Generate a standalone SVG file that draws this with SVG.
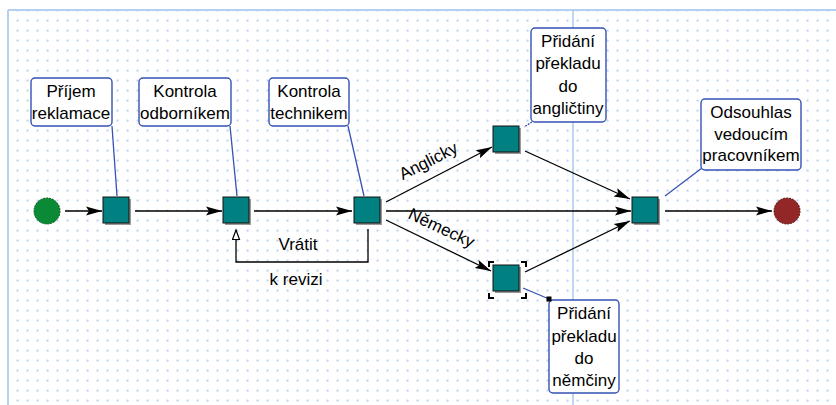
<svg xmlns="http://www.w3.org/2000/svg" width="836" height="405" viewBox="0 0 836 405">
<defs>
<pattern id="grid" x="12.5" y="15.5" width="10" height="10" patternUnits="userSpaceOnUse">
<rect x="4.2" y="4.2" width="1.8" height="1.8" fill="#a9c8ee"/>
</pattern>
<marker id="arr" markerUnits="userSpaceOnUse" markerWidth="17" markerHeight="11" refX="16" refY="5" orient="auto">
<path d="M0,0.5 L16,5 L0,9.5 L3,5 z" fill="#000"/>
</marker>
<marker id="hollow" markerUnits="userSpaceOnUse" markerWidth="12" markerHeight="10" refX="10" refY="4" orient="auto">
<path d="M0.5,0.5 L10,4 L0.5,7.5 z" fill="#fff" stroke="#000" stroke-width="1.2"/>
</marker>
</defs>
<style>
.txt{font-family:"Liberation Sans",Arial,sans-serif;font-size:17px;fill:#000;text-anchor:middle}
.note{fill:#fff;stroke:#3452b4;stroke-width:1.4}
.nl{stroke:#3452b4;stroke-width:1.3;fill:none}
.conn{stroke:#000;stroke-width:1.3;fill:none}
.act{fill:#008080;stroke:#111;stroke-width:1}
.sh{fill:#9a9a9a}
</style>
<rect x="0" y="0" width="836" height="405" fill="#fff"/>
<rect x="9" y="11" width="827" height="394" fill="url(#grid)"/>
<line x1="8" y1="10" x2="836" y2="10" stroke="#b3d1f2" stroke-width="2"/>
<line x1="8" y1="10" x2="8" y2="405" stroke="#b3d1f2" stroke-width="2"/>
<line x1="573" y1="10" x2="573" y2="405" stroke="#aac9ef" stroke-width="1.5"/>

<g id="connectors">
<line class="conn" x1="65" y1="211" x2="102" y2="211" marker-end="url(#arr)"/>
<line class="conn" x1="135" y1="211" x2="222" y2="211" marker-end="url(#arr)"/>
<line class="conn" x1="254" y1="211" x2="352" y2="211" marker-end="url(#arr)"/>
<line class="conn" x1="386" y1="211" x2="631" y2="211" marker-end="url(#arr)"/>
<line class="conn" x1="386" y1="202" x2="492" y2="147" marker-end="url(#arr)"/>
<line class="conn" x1="386" y1="220" x2="491" y2="271" marker-end="url(#arr)"/>
<line class="conn" x1="525" y1="151" x2="630" y2="199" marker-end="url(#arr)"/>
<line class="conn" x1="525" y1="272" x2="630" y2="221" marker-end="url(#arr)"/>
<line class="conn" x1="665" y1="211" x2="772" y2="211" marker-end="url(#arr)"/>
<polyline class="conn" points="368,229 368,262 236,262 236,230" marker-end="url(#hollow)"/>
<text class="txt" transform="translate(431,166) rotate(-27)">Anglicky</text>
<text class="txt" transform="translate(439,233) rotate(25)">Německy</text>
<text class="txt" x="298" y="250">Vrátit</text>
<text class="txt" x="296" y="285">k revizi</text>
<line class="nl" x1="112" y1="126" x2="117" y2="196"/>
<line class="nl" x1="230" y1="126" x2="237" y2="196"/>
<line class="nl" x1="348" y1="126" x2="364" y2="196"/>
<line class="nl" x1="532" y1="122" x2="524" y2="127" stroke-dasharray="2,1"/>
<line class="nl" x1="702" y1="168" x2="665" y2="196" stroke-width="1"/>
<line class="nl" x1="523" y1="288" x2="549" y2="299"/>
</g>

<g id="start">
<circle cx="47" cy="211" r="13" fill="#0b8a36" stroke="#075a22" stroke-width="1" stroke-dasharray="2,1"/>
</g>
<g id="end">
<circle cx="787" cy="211" r="13" fill="#932626" stroke="#5a1212" stroke-width="1" stroke-dasharray="2,1"/>
</g>

<g id="act1"><rect class="sh" x="105" y="199" width="26" height="26"/><rect class="act" x="103" y="197" width="26" height="26"/></g>
<g id="act2"><rect class="sh" x="225" y="199" width="26" height="26"/><rect class="act" x="223" y="197" width="26" height="26"/></g>
<g id="act3"><rect class="sh" x="356" y="199" width="26" height="26"/><rect class="act" x="354" y="197" width="26" height="26"/></g>
<g id="act-en"><rect class="sh" x="495" y="128" width="26" height="26"/><rect class="act" x="493" y="126" width="26" height="26"/></g>
<g id="act-de">
<rect class="sh" x="495" y="267" width="26" height="26"/><rect class="act" x="493" y="265" width="26" height="26"/>
<path d="M489,267 V262 H494 M521,262 H526 V267 M526,293 V298 H521 M494,298 H489 V293" fill="none" stroke="#000" stroke-width="2"/>
</g>
<g id="act-merge"><rect class="sh" x="634" y="199" width="26" height="26"/><rect class="act" x="632" y="197" width="26" height="26"/></g>

<g id="note1">
<rect class="note" x="31" y="78" width="81" height="48" rx="4"/>
<text class="txt" x="71" y="97">Příjem</text>
<text class="txt" x="71" y="119">reklamace</text>
</g>
<g id="note2">
<rect class="note" x="139" y="78" width="92" height="48" rx="4"/>
<text class="txt" x="185" y="97">Kontrola</text>
<text class="txt" x="185" y="119">odborníkem</text>
</g>
<g id="note3">
<rect class="note" x="269" y="78" width="80" height="48" rx="4"/>
<text class="txt" x="309" y="97">Kontrola</text>
<text class="txt" x="309" y="119">technikem</text>
</g>
<g id="note-en">
<rect class="note" x="531" y="28" width="75" height="94" rx="4"/>
<text class="txt" x="568" y="47">Přidání</text>
<text class="txt" x="568" y="69">překladu</text>
<text class="txt" x="568" y="92">do</text>
<text class="txt" x="568" y="114">angličtiny</text>
</g>
<g id="note-merge">
<rect class="note" x="701" y="99" width="100" height="71" rx="4"/>
<text class="txt" x="751" y="118">Odsouhlas</text>
<text class="txt" x="751" y="140">vedoucím</text>
<text class="txt" x="751" y="161">pracovníkem</text>
</g>
<g id="note-de">
<rect class="note" x="549" y="300" width="70" height="93" rx="4"/>
<text class="txt" x="584" y="319">Přidání</text>
<text class="txt" x="584" y="342">překladu</text>
<text class="txt" x="584" y="364">do</text>
<text class="txt" x="584" y="386">němčiny</text>
<rect x="546.5" y="296.5" width="5" height="5" fill="#000"/>
</g>
</svg>
